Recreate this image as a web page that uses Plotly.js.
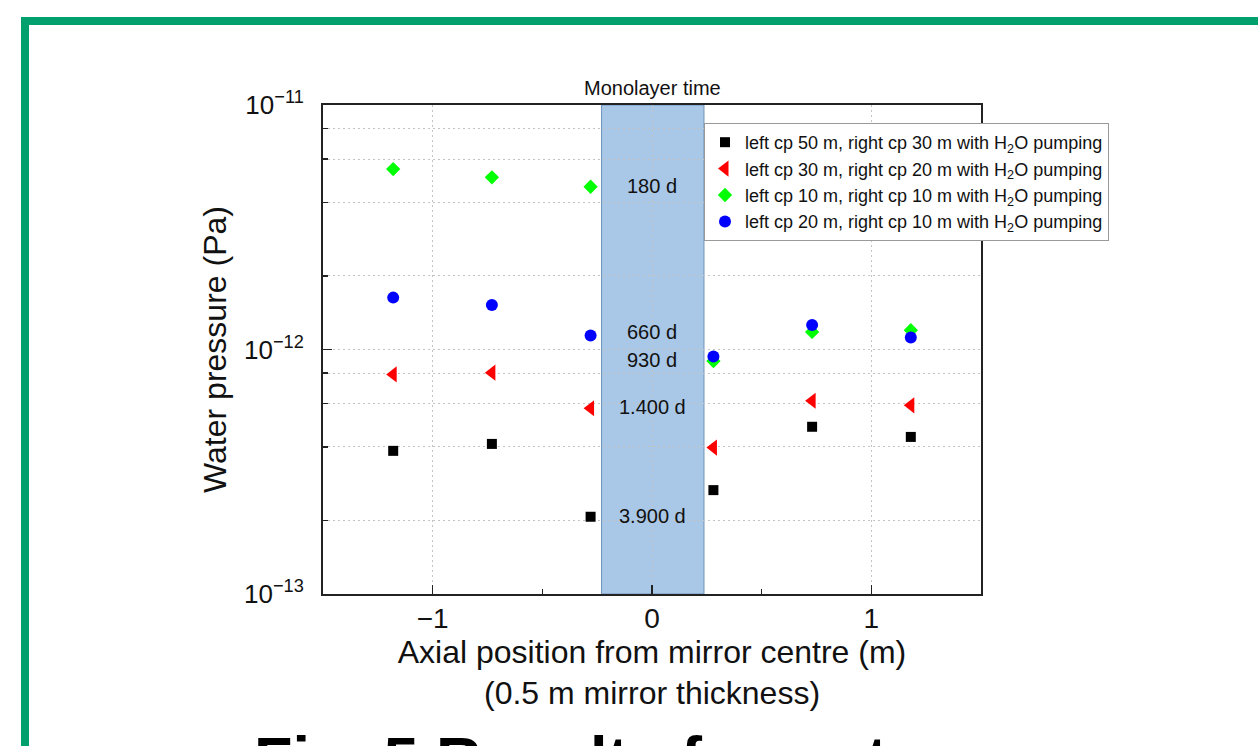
<!DOCTYPE html>
<html>
<head>
<meta charset="utf-8">
<script src="https://cdn.plot.ly/plotly-3.0.1.min.js"></script>
<style>
  html, body { margin: 0; padding: 0; background: #ffffff; }
  #chart { width: 1258px; height: 746px; }
</style>
</head>
<body>
<div id="chart"></div>
<script>
// ---- data ----
var positions = [-1.18, -0.73, -0.28, 0.28, 0.73, 1.18];   // axial position (m)

var seriesNames = [
  "left cp 50 m, right cp 30 m with H<sub>2</sub>O pumping",
  "left cp 30 m, right cp 20 m with H<sub>2</sub>O pumping",
  "left cp 10 m, right cp 10 m with H<sub>2</sub>O pumping",
  "left cp 20 m, right cp 10 m with H<sub>2</sub>O pumping"
];
var cp50_30 = [3.85e-13, 4.11e-13, 2.07e-13, 2.66e-13, 4.83e-13, 4.39e-13];
var cp30_20 = [7.91e-13, 8.04e-13, 5.75e-13, 3.97e-13, 6.17e-13, 5.91e-13];
var cp10_10 = [5.47e-12, 5.06e-12, 4.63e-12, 8.97e-13, 1.18e-12, 1.20e-12];
var cp20_10 = [1.63e-12, 1.52e-12, 1.14e-12, 9.36e-13, 1.26e-12, 1.12e-12];

var monolayerLabels = ["180 d", "660 d", "930 d", "1.400 d", "3.900 d"];
var monolayerPressures = [4.68e-12, 1.18e-12, 9.06e-13, 5.83e-13, 2.09e-13];

var mirrorHalfWidth = [-0.23, 0.237];   // shaded mirror region (m)

var yMajorTicks = [1e-13, 1e-12, 1e-11];
var yMajorText = ["10<sup>\u221213</sup>", "10<sup>\u221212</sup>", "10<sup>\u221211</sup>"];
var yMinorTicks = [2e-13, 4e-13, 6e-13, 8e-13, 2e-12, 4e-12, 6e-12, 8e-12];
var xMajorTicks = [-1, 0, 1];
var xMajorText = ["\u22121", "0", "1"];
var xMinorTicks = [-0.5, 0.5];

// ---- traces ----
var styles = [
  {symbol: "square", color: "#000000", size: 10},
  {symbol: "triangle-left", color: "#ff0000", size: 14},
  {symbol: "diamond", color: "#00ff00", size: 11},
  {symbol: "circle", color: "#0000ff", size: 12}
];
var seriesValues = [cp50_30, cp30_20, cp10_10, cp20_10];

var traces = seriesValues.map(function (vals, i) {
  return {
    type: "scatter",
    mode: "markers",
    x: positions,
    y: vals,
    name: seriesNames[i],
    marker: {symbol: styles[i].symbol, color: styles[i].color, size: styles[i].size, line: {width: 0}}
  };
});

var FONT = "Liberation Sans, Arial, Helvetica, sans-serif";
var PL = 323, PR = 981, PT = 105, PB = 594;
var W = PR - PL, H = PB - PT;
function px2x(p) { return (p - PL) / W; }
function px2y(p) { return (PB - p) / H; }

var annotations = monolayerLabels.map(function (t, i) {
  return {
    text: t, x: 0, y: Math.log10(monolayerPressures[i]), xref: "x", yref: "y",
    showarrow: false, xanchor: "center", yanchor: "middle",
    font: {family: FONT, size: 20, color: "#111111"}
  };
});
annotations.push({
  text: "Monolayer time", x: 0, y: 1, xref: "x", yref: "paper",
  xanchor: "center", yanchor: "bottom", yshift: 4, showarrow: false,
  font: {family: FONT, size: 20, color: "#111111"}
});
annotations.push({
  text: "(0.5 m mirror thickness)", x: 0.5, y: px2y(693), xref: "paper", yref: "paper",
  xanchor: "center", yanchor: "middle", showarrow: false,
  font: {family: FONT, size: 32, color: "#111111"}
});
annotations.push({
  text: "<b>Fig. 5 Results for water</b>", x: px2x(252), y: px2y(722), xref: "paper", yref: "paper",
  xanchor: "left", yanchor: "top", showarrow: false,
  font: {family: FONT, size: 63, color: "#000000"}
});

var layout = {
  width: 1258, height: 746,
  margin: {l: PL, r: 1258 - PR, t: PT, b: 746 - PB, pad: 0},
  paper_bgcolor: "#ffffff", plot_bgcolor: "#ffffff",
  font: {family: FONT, color: "#111111"},
  showlegend: true,
  legend: {
    x: px2x(704), y: px2y(123), xanchor: "left", yanchor: "top",
    bgcolor: "#ffffff", bordercolor: "#9a9a9a", borderwidth: 1,
    font: {family: FONT, size: 18, color: "#111111"},
    tracegroupgap: 0
  },
  xaxis: {
    range: [-1.5, 1.5], tickmode: "array", tickvals: xMajorTicks, ticktext: xMajorText,
    ticks: "inside", ticklen: 9, tickwidth: 1.5, tickcolor: "#222222",
    showline: true, linecolor: "#222222", linewidth: 2, mirror: true,
    showgrid: true, gridcolor: "#c4c4c4", gridwidth: 1, griddash: "2px,3px",
    zeroline: false, ticklabelstandoff: -2,
    tickfont: {family: FONT, size: 28, color: "#111111"},
    minor: {tickvals: xMinorTicks, ticks: "inside", ticklen: 5, tickwidth: 1.5, tickcolor: "#222222", showgrid: false},
    title: {text: "Axial position from mirror centre (m)", font: {family: FONT, size: 32, color: "#111111"}, standoff: 6}
  },
  yaxis: {
    type: "log", range: [-13, -11], tickmode: "array", tickvals: yMajorTicks, ticktext: yMajorText,
    ticks: "inside", ticklen: 9, tickwidth: 1.5, tickcolor: "#222222",
    showline: true, linecolor: "#222222", linewidth: 2, mirror: true,
    showgrid: true, gridcolor: "#c4c4c4", gridwidth: 1, griddash: "2px,3px",
    zeroline: false, ticklabelstandoff: 12,
    tickfont: {family: FONT, size: 26, color: "#111111"},
    minor: {tickvals: yMinorTicks, ticks: "inside", ticklen: 5, tickwidth: 1.5, tickcolor: "#222222",
            showgrid: true, gridcolor: "#c4c4c4", gridwidth: 1, griddash: "2px,3px"},
    title: {text: "Water pressure (Pa)", font: {family: FONT, size: 32, color: "#111111"}, standoff: 8}
  },
  shapes: [
    {type: "rect", xref: "x", yref: "paper", x0: mirrorHalfWidth[0], x1: mirrorHalfWidth[1], y0: 0, y1: 1,
     fillcolor: "#a9c7e6", line: {color: "#6f93bb", width: 1}, layer: "below"},
    {type: "rect", xref: "paper", yref: "paper", x0: px2x(25), x1: px2x(1275), y0: px2y(770), y1: px2y(21),
     fillcolor: "rgba(0,0,0,0)", line: {color: "#00a06e", width: 8}, layer: "below"}
  ],
  annotations: annotations
};

Plotly.newPlot("chart", traces, layout, {displayModeBar: false, staticPlot: true});
</script>
</body>
</html>
